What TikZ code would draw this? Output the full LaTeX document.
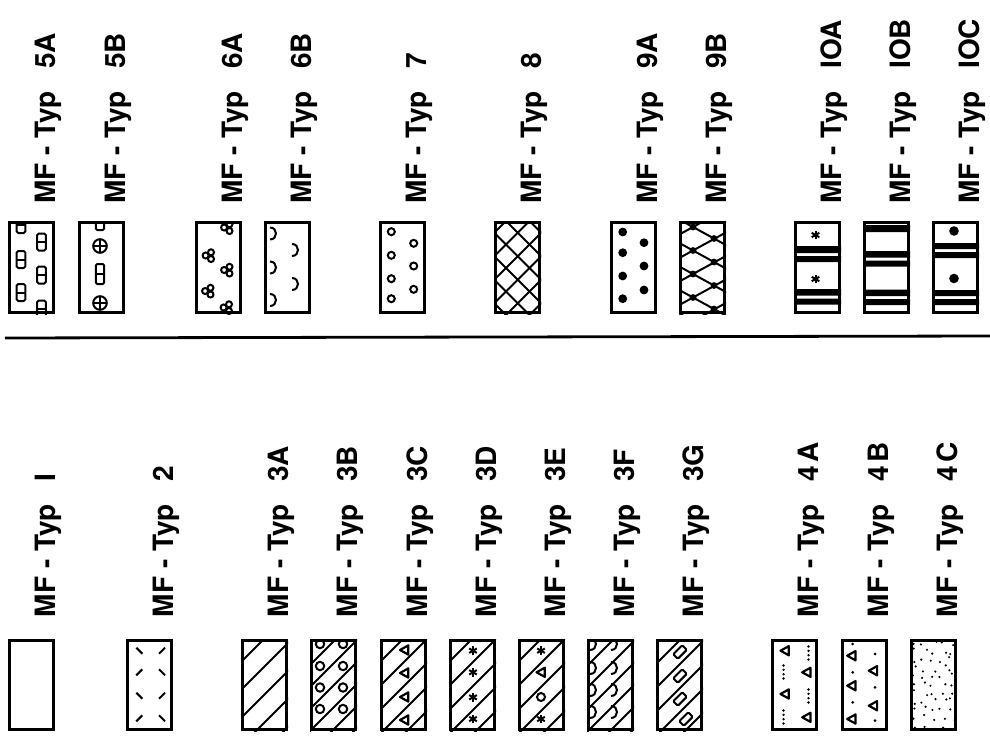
\documentclass[tikz,border=0pt]{standalone}
\usepackage{fontspec}
\setmainfont{TeX Gyre Heros}
\newfontfamily\mflblfont{TeX Gyre Heros}
\tikzset{
  boxst/.style={draw=black, line width=3.2pt, minimum width=43.8pt, inner sep=0pt, outer sep=0pt},
  lbl/.style={rotate=90, anchor=base west, inner sep=0pt, outer sep=0pt, font=\mflblfont\bfseries\fontsize{28}{30}\selectfont},
  hatchst/.style={line width=2pt},
  symst/.style={line width=2pt},
  rulest/.style={line width=2.8pt}
}
\newcommand\mfbox[6]{%
  \node[boxst, minimum height=#4pt-3.2pt] (b#1) at ({#2+23.5},{#3+#4/2}) {};
  \node[lbl] (l#1) at ({#2+47.5},#5) {MF - Typ\hspace{0.8em}#6};
}
\newcommand\mfhatch[1]{\foreach \hc in {#1} {\draw[hatchst] (\hc+15,-15) -- (\hc-115,115);}}
\newcommand\mftri[2]{\draw[symst, line join=round, line width=2.2pt] ({#1-4.5},#2) -- ({#1+3.8},{#2-4.6}) -- ({#1+3.8},{#2+4.6}) -- cycle;}
\newcommand\mfstar[2]{\foreach \ang in {90,30,150} {\draw[line width=2pt] ({#1+4.4*cos(\ang)},{#2+4.4*sin(\ang)}) -- ({#1-4.4*cos(\ang)},{#2-4.4*sin(\ang)});} \fill (#1,#2) circle[radius=2pt];}
\newcommand\mfarc[3]{\draw[symst] (#1,{#2-#3}) .. controls ({#1+1.33*#3},{#2-#3}) and ({#1+1.33*#3},{#2+#3}) .. (#1,{#2+#3});}
\newcommand\mfdots[2]{\foreach \dd in {-6.5,-2.2,2.2,6.5} {\fill (#1,{#2+\dd}) circle[radius=1.3pt];}}

\begin{document}
\begin{tikzpicture}[x=1pt,y=-1pt]
\useasboundingbox (0,0) rectangle (990,738);

% ---------- top row patterns ----------
% 5A
\begin{scope}[shift={(8,221)}]
  \clip (0,0) rectangle (47,93);
  \foreach \px/\py in {13/3.5,13/38.5,13/71.5,33.5/21,33.5/54,33.5/88}{
    \draw[symst, rounded corners=1.5pt] (\px-4.3,\py-8.5) rectangle (\px+4.3,\py+8.5);
    \draw[symst] (\px-4.3,\py) -- (\px+4.3,\py);}
\end{scope}
% 5B
\begin{scope}[shift={(78,221)}]
  \clip (0,0) rectangle (47,93);
  \foreach \py in {-1,53}{
    \draw[symst, rounded corners=1.5pt] (17.8,\py-10) rectangle (26.2,\py+10);
    \draw[symst] (17.8,\py) -- (26.2,\py);}
  \foreach \py in {25,82}{
    \draw[symst] (22,\py) circle[radius=6.8pt];
    \draw[symst] (15.2,\py) -- (28.8,\py) (22,\py-6.8) -- (22,\py+6.8);}
\end{scope}
% 6A
\begin{scope}[shift={(195,221)}]
  \clip (0,0) rectangle (47,93);
  \foreach \px/\py in {32.5/7,14/35,32.5/49.5,13.5/70.5,32/87}{
    \draw[symst] (\px-3.4,\py-0.5) circle[radius=3pt] (\px+2,\py-3.7) circle[radius=3pt] (\px+2,\py+3) circle[radius=3pt];}
\end{scope}
% 6B
\begin{scope}[shift={(264,221)}]
  \clip (0,0) rectangle (47,93);
  \foreach \px/\py in {6/12.5,6/46.5,6/79,28/29,28/63} {\mfarc{\px}{\py}{6}}
\end{scope}
% 7
\begin{scope}[shift={(379,221)}]
  \clip (0,0) rectangle (47,93);
  \foreach \px/\py in {12.3/10.7,12.3/34.3,12.3/57.7,12.3/77.7,34.7/22.3,34.7/45,34.7/68.3}
    {\draw[symst] (\px,\py) circle[radius=3.5pt];}
\end{scope}
% 8
\begin{scope}[shift={(494,221)}]
  \clip (0,0) rectangle (47,93);
  \foreach \hc in {12,35.5,59,82.5,106,129.5} {\draw[hatchst] (\hc+15,-15) -- (\hc-115,115);}
  \foreach \hc in {35.5,12,-11.5,-35,-58.5,-82,-105.5} {\draw[hatchst] (\hc-15,-15) -- (\hc+115,115);}
\end{scope}
% 9A
\begin{scope}[shift={(610,221)}]
  \clip (0,0) rectangle (47,93);
  \foreach \px/\py in {12.7/11,12.7/31.7,12.7/55,12.7/77.7,34/21.7,34/45,34/69}
    {\fill (\px,\py) circle[radius=4.4pt];}
\end{scope}
% 9B
\begin{scope}[shift={(679,221)}]
  \clip (0,0) rectangle (47,93);
  \foreach \py in {-17.5,6,29.5,53,76.5,100}{
    \draw[symst] (-2,\py-8.77) -- (49,\py+19.18);
    \draw[symst] (-2,\py+8.77) -- (49,\py-19.18);
    \fill (14,\py) circle[radius=3.4pt] (35,\py+11.5) circle[radius=3.4pt];}
\end{scope}
% 10A
\begin{scope}[shift={(794,221)}]
  \clip (0,0) rectangle (47,93);
  \fill (0,25) rectangle (47,32) (0,35) rectangle (47,41) (0,68) rectangle (47,74.5) (0,77.5) rectangle (47,83.5);
  \mfstar{21.5}{14}
  \mfstar{21.5}{58}
\end{scope}
% 10B
\begin{scope}[shift={(863,221)}]
  \clip (0,0) rectangle (47,93);
  \fill (0,4) rectangle (47,11) (0,30) rectangle (47,36.5) (0,39.5) rectangle (47,45.5) (0,68.5) rectangle (47,75) (0,78) rectangle (47,84);
\end{scope}
% 10C
\begin{scope}[shift={(932,221)}]
  \clip (0,0) rectangle (47,93);
  \fill (22,10) circle[radius=4.8pt] (22,57.5) circle[radius=4.8pt];
  \fill (0,22) rectangle (47,28) (0,31) rectangle (47,37) (0,69) rectangle (47,75) (0,78) rectangle (47,84);
\end{scope}

% ---------- bottom row patterns ----------
% 2
\begin{scope}[shift={(126,639)}]
  \clip (0,0) rectangle (47,92);
  \foreach \py/\s in {11.7/1,33.3/-1,56.7/1,79.3/-1}{
    \draw[symst] (13.3-3,\py-3*\s) -- (13.3+3,\py+3*\s);
    \draw[symst] (36-3,\py+3*\s) -- (36+3,\py-3*\s);}
\end{scope}
% 3A
\begin{scope}[shift={(241,639)}]
  \clip (0,0) rectangle (47,92);
  \mfhatch{23,51,79,107,135}
\end{scope}
% 3B
\begin{scope}[shift={(310,639)}]
  \clip (0,0) rectangle (47,92);
  \mfhatch{4,26,48,70,92,114,136}
  \foreach \px in {10,33} {\foreach \py in {5,27,48.5,70}
    {\draw[symst] (\px,\py) circle[radius=4.2pt];}}
\end{scope}
% 3C
\begin{scope}[shift={(380,639)}]
  \clip (0,0) rectangle (47,92);
  \mfhatch{23,47,71,95,119}
  \foreach \py in {11,34,58,81} {\mftri{24.5}{\py}}
\end{scope}
% 3D
\begin{scope}[shift={(449,639)}]
  \clip (0,0) rectangle (47,92);
  \mfhatch{23,47,71,95,119}
  \foreach \py in {11.7,33.3,58.3,80} {\mfstar{24}{\py}}
\end{scope}
% 3E
\begin{scope}[shift={(518,639)}]
  \clip (0,0) rectangle (47,92);
  \mfhatch{23,47,71,95,119}
  \mfstar{23}{11.7}
  \mftri{23}{33.3}
  \draw[symst] (23,58) circle[radius=4pt];
  \mfstar{23}{80}
\end{scope}
% 3F
\begin{scope}[shift={(587,639)}]
  \clip (0,0) rectangle (47,92);
  \mfhatch{5,27,49,71,93,115,137}
  \foreach \px in {3,24} {\foreach \py in {5,29,51,73} {\mfarc{\px}{\py}{6}}}
\end{scope}
% 3G
\begin{scope}[shift={(656,639)}]
  \clip (0,0) rectangle (47,92);
  \mfhatch{1,25,49,73,97,121}
  \foreach \px/\py in {24/13,24/37,24/60,30/80}
    {\draw[symst, rounded corners=1.2pt] (\px+6.8,\py-2.2) -- (\px+2.2,\py-6.8) -- (\px-6.8,\py+2.2) -- (\px-2.2,\py+6.8) -- cycle;}
\end{scope}
% 4A
\begin{scope}[shift={(771,639)}]
  \clip (0,0) rectangle (47,92);
  \foreach \px/\py in {14/11.7,14/55,35.7/33.3,35.7/78.3} {\mftri{\px}{\py}}
  \foreach \px/\py in {12.5/33,12.5/78,37.5/14,37.5/57} {\mfdots{\px}{\py}}
\end{scope}
% 4B
\begin{scope}[shift={(841,639)}]
  \clip (0,0) rectangle (47,92);
  \foreach \px/\py in {10.7/16.7,10.7/46.7,10.7/80,32.3/31.7,32.3/66.7} {\mftri{\px}{\py}}
  \foreach \px/\py in {11.7/5,11.7/33.3,11.7/63.3,34/15,34/48.3,34/81.7}
    {\fill (\px,\py) circle[radius=1.5pt];}
\end{scope}
% 4C
\begin{scope}[shift={(910,639)}]
  \clip (0,0) rectangle (47,92);
  \pgfmathsetseed{4242}
  \foreach \ix in {0,...,4}{
    \foreach \iy in {0,...,10}{
      \pgfmathsetmacro\rx{5+\ix*9.3+(rnd-0.5)*7}
      \pgfmathsetmacro\ry{4.5+\iy*8.3+(rnd-0.5)*6.5}
      \fill (\rx,\ry) circle[radius=1.2pt];}}
\end{scope}

% ---------- boxes and labels ----------
\mfbox{5A}{8}{221}{93}{204}{5A}
\mfbox{5B}{78}{221}{93}{204}{5B}
\mfbox{6A}{195}{221}{93}{204}{6A}
\mfbox{6B}{264}{221}{93}{204}{6B}
\mfbox{7}{379}{221}{93}{204}{7}
\mfbox{8}{494}{221}{93}{204}{8}
\mfbox{9A}{610}{221}{93}{204}{9A}
\mfbox{9B}{679}{221}{93}{204}{9B}
\mfbox{10A}{794}{221}{93}{204}{IOA}
\mfbox{10B}{863}{221}{93}{204}{IOB}
\mfbox{10C}{932}{221}{93}{204}{IOC}

\mfbox{1}{8}{639}{92}{617}{I}
\mfbox{2}{126}{639}{92}{617}{2}
\mfbox{3A}{241}{639}{92}{617}{3A}
\mfbox{3B}{310}{639}{92}{617}{3B}
\mfbox{3C}{380}{639}{92}{617}{3C}
\mfbox{3D}{449}{639}{92}{617}{3D}
\mfbox{3E}{518}{639}{92}{617}{3E}
\mfbox{3F}{587}{639}{92}{617}{3F}
\mfbox{3G}{656}{639}{92}{617}{3G}
\mfbox{4A}{771}{639}{92}{617}{4\kern0.12em A}
\mfbox{4B}{841}{639}{92}{617}{4\kern0.12em B}
\mfbox{4C}{910}{639}{92}{617}{4\kern0.12em C}

% separating rule
\coordinate (rl) at (5,338);
\coordinate (rr) at (990,336);
\draw[rulest] (rl) -- (rr);
\end{tikzpicture}
\end{document}
